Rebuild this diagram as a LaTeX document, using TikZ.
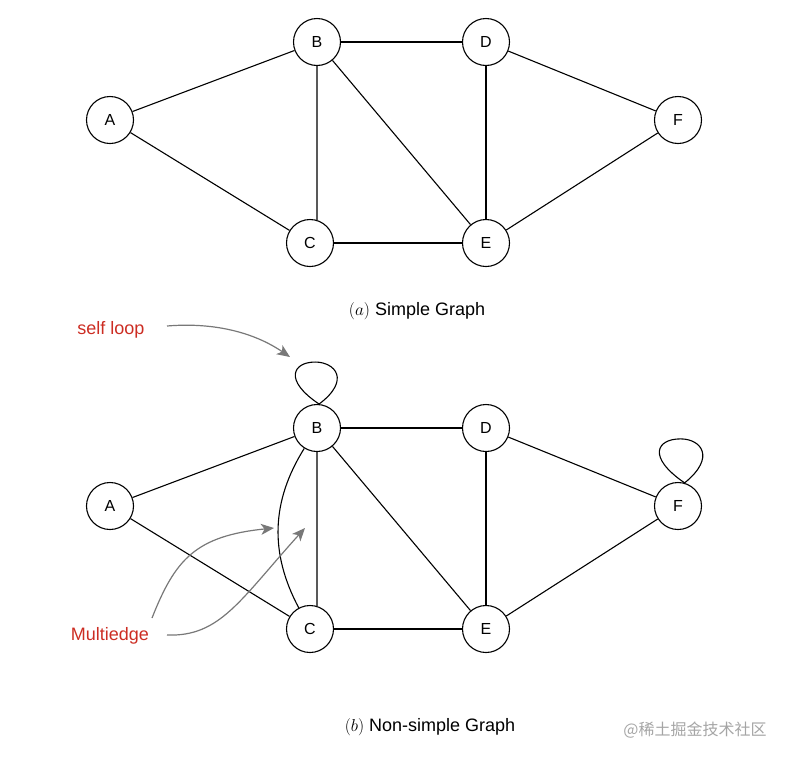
\documentclass[tikz,border=0pt]{standalone}
\usepackage{fontspec}
\setmainfont{Liberation Sans}
\newfontfamily\cjkfont{Noto Sans CJK SC}
\usetikzlibrary{arrows.meta}
\definecolor{lblred}{RGB}{204,45,35}
\definecolor{arrgray}{RGB}{120,120,120}
\definecolor{wmgray}{RGB}{165,165,165}
\begin{document}
\begin{tikzpicture}[x=1pt,y=-1pt,
  vertex/.style={circle,draw=black,line width=1.1pt,minimum size=47pt,inner sep=0pt,fill=white,font=\fontsize{16}{16}\selectfont},
  edge/.style={line width=1.1pt,draw=black},
  pointer/.style={draw=arrgray,line width=1.2pt,-{Stealth[length=13pt,width=11pt,inset=3.5pt]}},
  note/.style={text=lblred,font=\fontsize{18}{18}\selectfont,inner sep=0pt},
  caption/.style={font=\fontsize{18}{18}\selectfont,inner sep=0pt}]
\useasboundingbox (0,0) rectangle (790,761);
% ---------- (a) simple graph ----------
\node[vertex] (A1) at (110,120) {A};
\node[vertex] (B1) at (317,42) {B};
\node[vertex] (D1) at (486,42) {D};
\node[vertex] (F1) at (678,120) {F};
\node[vertex] (C1) at (310,243) {C};
\node[vertex] (E1) at (486,243) {E};
\draw[edge] (A1) -- (B1);
\draw[edge] (A1) -- (C1);
\draw[edge] (B1.south) -- (C1.73);
\draw[edge] (B1) -- (D1);
\draw[edge] (B1) -- (E1);
\draw[edge] (D1) -- (E1);
\draw[edge] (D1) -- (F1);
\draw[edge] (C1) -- (E1);
\draw[edge] (E1) -- (F1);
\node[caption] (capa) at (417,311) {$(a)$ Simple Graph};
% ---------- (b) non-simple graph ----------
\node[vertex] (A2) at (110,506) {A};
\node[vertex] (B2) at (317,428) {B};
\node[vertex] (D2) at (486,428) {D};
\node[vertex] (F2) at (678,506) {F};
\node[vertex] (C2) at (310,629) {C};
\node[vertex] (E2) at (486,629) {E};
\draw[edge] (A2) -- (B2);
\draw[edge] (A2) -- (C2);
\draw[edge] (B2.south) -- (C2.73);
\draw[edge] (B2) to[bend right=30] (C2);
\draw[edge] (B2) -- (D2);
\draw[edge] (B2) -- (E2);
\draw[edge] (D2) -- (E2);
\draw[edge] (D2) -- (F2);
\draw[edge] (C2) -- (E2);
\draw[edge] (E2) -- (F2);
% self loops
\draw[edge] (B2.85) .. controls +(32,-24) and +(20,0) .. ++(-4,-42)
            .. controls +(-22,0) and +(-36,-24) .. (B2.85);
\draw[edge] (F2.74) .. controls +(32,-26) and +(20,0) .. ++(-4,-44)
            .. controls +(-24,0) and +(-38,-26) .. (F2.74);
\node[caption] (capb) at (430,727) {$(b)$ Non-simple Graph};
% ---------- annotations ----------
\node[note] (selfloop) at (111,330) {self loop};
\node[note] (multi) at (110,636) {Multiedge};
\coordinate (sl0) at (167,326);
\coordinate (sl1) at (290,357);
\draw[pointer] (sl0) .. controls (215,322) and (255,333) .. (sl1);
\coordinate (me0) at (152,618);
\coordinate (me1) at (274,528);
\draw[pointer] (me0) .. controls (175,560) and (195,536) .. (me1);
\coordinate (mf0) at (167,635);
\coordinate (mf1) at (305,528);
\draw[pointer] (mf0) .. controls (220,637) and (240,600) .. (mf1);
\node[text=wmgray,font=\cjkfont\fontsize{16}{16}\selectfont,inner sep=0pt] (wm) at (695,730) {@稀土掘金技术社区};
\end{tikzpicture}
\end{document}
